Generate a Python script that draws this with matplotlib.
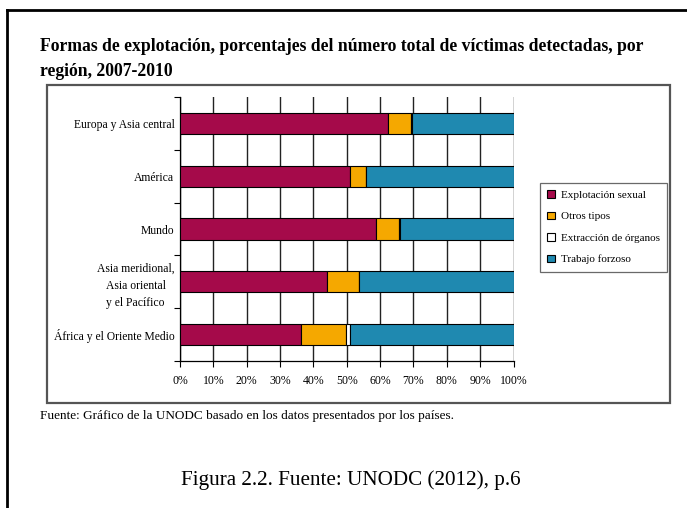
import numpy as np
import matplotlib
matplotlib.use("Agg")
import matplotlib.pyplot as plt
from matplotlib.patches import Patch
from matplotlib.lines import Line2D

plt.rcParams['font.family'] = ['Liberation Serif', 'DejaVu Serif']

# Data (percent of detected victims)
regions = ["Europa y Asia central", "América", "Mundo",
           "Asia meridional,\nAsia oriental\ny el Pacífico",
           "África y el Oriente Medio"]
series_names = ["Explotación sexual", "Otros tipos",
                "Extracción de órganos", "Trabajo forzoso"]
sexual = [62.5, 51.1, 58.7, 44.2, 36.2]
otros = [6.8, 4.7, 7.1, 9.4, 13.5]
organos = [0.2, 0.0, 0.2, 0.0, 1.2]
trabajo = [30.5, 44.2, 34.0, 46.4, 49.1]
x_ticks = [0, 10, 20, 30, 40, 50, 60, 70, 80, 90, 100]

colors = ["#A50A4A", "#F5A800", "#FFFFFF", "#1F89B0"]

W, H = 687, 508
fig = plt.figure(figsize=(W / 100, H / 100), dpi=100)

# Outer frame (top and left edges visible)
fig.add_artist(Line2D([7 / W, 1.0], [1 - 10 / H, 1 - 10 / H], color="black", lw=2))
fig.add_artist(Line2D([7 / W, 7 / W], [1 - 10 / H, 0.0], color="black", lw=2))

# Inner chart box
fig.add_artist(plt.Rectangle((47 / W, 1 - 403 / H), (670 - 47) / W, (403 - 85) / H,
                             fill=False, edgecolor="#555555", lw=1.6))

# Title
fig.text(40 / W, 1 - 46 / H,
         "Formas de explotación, porcentajes del número total de víctimas detectadas, por",
         fontsize=12.7, fontweight="bold", va="center", ha="left")
fig.text(40 / W, 1 - 71 / H, "región, 2007-2010",
         fontsize=12.7, fontweight="bold", va="center", ha="left")

ax = fig.add_axes([180 / W, 1 - 361 / H, (513.5 - 180) / W, (361 - 97) / H])

y = np.arange(len(regions))
data = [sexual, otros, organos, trabajo]
left = np.zeros(len(regions))
for vals, name, col in zip(data, series_names, colors):
    ax.barh(y, vals, left=left, height=0.4, color=col, edgecolor="black",
            linewidth=0.8, label=name, zorder=3)
    left += np.array(vals)

ax.set_xlim(0, 100)
ax.set_ylim(-0.5, len(regions) - 0.5)
ax.invert_yaxis()

ax.set_xticks(x_ticks)
ax.set_xticklabels([f"{t}%" for t in x_ticks], fontsize=8.5)
ax.xaxis.grid(True, color="#222222", lw=1.0, zorder=0)
ax.set_axisbelow(True)

ax.set_yticks(y)
ax.set_yticklabels(regions, fontsize=8.4)
for lab in ax.get_yticklabels():
    lab.set_multialignment("center")
    lab.set_linespacing(1.55)
ax.set_yticks(np.arange(-0.5, len(regions), 1.0), minor=True)
ax.tick_params(axis="y", which="major", length=0, pad=4)
ax.tick_params(axis="y", which="minor", length=4, width=0.8, direction="out")
ax.tick_params(axis="x", length=4, width=0.8, pad=6)

ax.spines["top"].set_visible(False)
ax.spines["right"].set_visible(False)
ax.spines["left"].set_linewidth(0.9)
ax.spines["bottom"].set_linewidth(0.9)

# Legend
handles = [Patch(facecolor=c, edgecolor="black", lw=0.8) for c in colors]
leg = fig.legend(handles, series_names, loc="upper left",
                 bbox_to_anchor=(540 / W, 1 - 183 / H), fontsize=8,
                 frameon=True, fancybox=False, edgecolor="#444444",
                 handlelength=0.7, handleheight=0.7, handletextpad=0.5,
                 labelspacing=1.05, borderpad=0.65, borderaxespad=0)
leg.get_frame().set_linewidth(0.9)

# Source note and caption
fig.text(40 / W, 1 - 416 / H,
         "Fuente: Gráfico de la UNODC basado en los datos presentados por los países.",
         fontsize=9.5, va="center", ha="left")
fig.text(351 / W, 1 - 480 / H, "Figura 2.2. Fuente: UNODC (2012), p.6",
         fontsize=15.2, va="center", ha="center")

fig.savefig("out.png", dpi=100)
